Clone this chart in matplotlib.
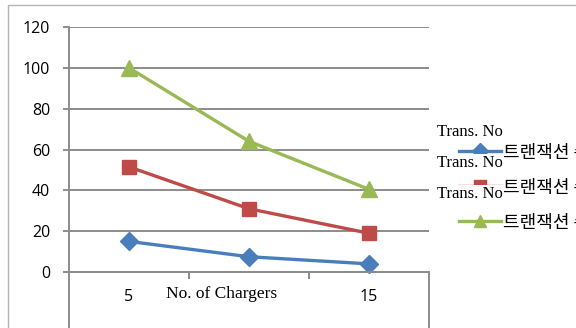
import matplotlib.pyplot as plt
from matplotlib.patches import Rectangle

# 충전기 수에 따른 트랜잭션 수
chargers = ['5', '10', '15']
tick_labels = ['5', '', '15']
trans_a = [15, 7.5, 4]
trans_b = [51.5, 31, 19]
trans_c = [100, 64, 40.5]
series_names = ['트랜잭션 수 (A)', '트랜잭션 수 (B)', '트랜잭션 수 (C)']

plt.rcParams['font.family'] = ['Open Sans', 'DejaVu Sans']
grid_col = '#8c8c8c'

fig = plt.figure(figsize=(5.76, 3.28), dpi=100)
ax = fig.add_axes([69 / 576, 0, 360 / 576, 301 / 328])

x = range(len(chargers))
ax.plot(x, trans_a, color='#4a7ebb', lw=2.4, marker='D', ms=9.5, label=series_names[0])
ax.plot(x, trans_b, color='#be4b48', lw=2.4, marker='s', ms=10.5, label=series_names[1])
ax.plot(x, trans_c, color='#98b954', lw=2.4, marker='^', ms=11, label=series_names[2])

ax.set_xlim(-0.5, 2.5)
ax.set_ylim(-27.4, 120)
ax.set_yticks(range(0, 121, 20))
ax.yaxis.grid(True, color=grid_col, lw=1.4)
ax.set_axisbelow(True)
ax.tick_params(axis='y', direction='out', length=4.5, width=1.4, color=grid_col,
               pad=9, labelsize=11.5)

ax.set_xticks(list(x))
ax.set_xticklabels(tick_labels)
ax.set_xticks([0.5, 1.5], minor=True)
ax.tick_params(axis='x', which='major', length=0, pad=12, labelsize=11.5)
ax.tick_params(axis='x', which='minor', direction='out', length=5, width=1.4, color=grid_col)

ax.spines['top'].set_visible(False)
ax.spines['bottom'].set_position(('data', 0))
ax.spines['right'].set_bounds(-27.4, 0)
for side in ['left', 'bottom', 'right']:
    ax.spines[side].set_color(grid_col)
    ax.spines[side].set_linewidth(1.4)

# 바깥 테두리
fig.patches.append(Rectangle((8 / 576, -0.1), 1.2, 1 - 5 / 328 + 0.1, transform=fig.transFigure,
                             fill=False, edgecolor='#b4b4b4', lw=1))

fig.text(222 / 576, 1 - 294 / 328, 'No. of Chargers', family='Liberation Serif',
         fontsize=12.5, ha='center', va='center')

fig.legend(loc='center left', bbox_to_anchor=(459 / 576, 1 - 187 / 328),
           frameon=False, borderpad=0, borderaxespad=0, handlelength=2.3,
           handletextpad=0.15, labelspacing=0.9, markerscale=0.85,
           prop={'family': ['Noto Sans CJK KR', 'DejaVu Sans'], 'size': 13})

for yp in [132, 163, 194]:
    fig.text(437 / 576, 1 - yp / 328, 'Trans. No', family='Liberation Serif', fontsize=12,
             ha='left', va='center', zorder=10,
             bbox=dict(facecolor='white', edgecolor='none', pad=0.5))

fig.savefig('out.png', dpi=100)
